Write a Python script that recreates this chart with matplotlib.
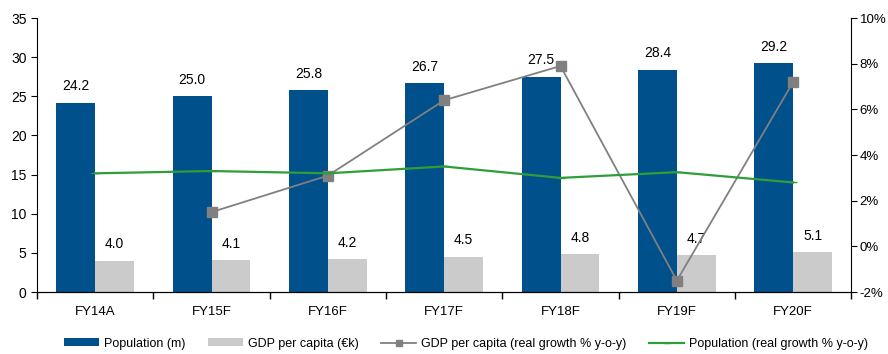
import numpy as np
import matplotlib
matplotlib.use("Agg")
import matplotlib.pyplot as plt

plt.rcParams['font.family'] = ['Liberation Sans', 'DejaVu Sans']

years = ["FY14A", "FY15F", "FY16F", "FY17F", "FY18F", "FY19F", "FY20F"]
population = [24.2, 25.0, 25.8, 26.7, 27.5, 28.4, 29.2]
gdp_per_capita = [4.0, 4.1, 4.2, 4.5, 4.8, 4.7, 5.1]
gdp_growth = [np.nan, 1.5, 3.1, 6.4, 7.9, -1.5, 7.2]
pop_growth = [3.2, 3.3, 3.2, 3.5, 3.0, 3.25, 2.8]

blue = "#00508C"
light_grey = "#CBCBCB"
line_grey = "#808080"
green = "#2E9E3A"

fig = plt.figure(figsize=(8.88, 3.54), dpi=100)
ax = fig.add_axes([0.0417, 0.175, 0.917, 0.774])
x = np.arange(len(years))
w = 0.335

b1 = ax.bar(x - w / 2, population, w, color=blue, label="Population (m)")
b2 = ax.bar(x + w / 2, gdp_per_capita, w, color=light_grey, label="GDP per capita (€k)")
for rect, v in zip(b1, population):
    ax.text(rect.get_x() + rect.get_width() / 2, v + 1.2, f"{v:.1f}",
            ha="center", va="bottom", fontsize=10)
for rect, v in zip(b2, gdp_per_capita):
    ax.text(rect.get_x() + rect.get_width() / 2, v + 1.2, f"{v:.1f}",
            ha="center", va="bottom", fontsize=10)

ax.set_xlim(-0.5, len(years) - 0.5)
ax.set_ylim(0, 35)
ax.set_yticks(range(0, 36, 5))
ax.set_xticks(x)
ax.set_xticklabels(years)
ax.set_xticks(np.arange(-0.5, len(years)), minor=True)
ax.tick_params(axis="x", which="major", length=0, pad=10, labelsize=9.5)
ax.tick_params(axis="x", which="minor", length=5, direction="out", width=1)
ax.tick_params(axis="y", length=4, direction="out", labelsize=10)
ax.spines["top"].set_visible(False)
ax.spines["right"].set_visible(False)

ax2 = ax.twinx()
ax2.plot(x, gdp_growth, color=line_grey, marker="s", markersize=7,
         linewidth=1.3, label="GDP per capita (real growth % y-o-y)")
ax2.plot(x, pop_growth, color=green, marker="_", markersize=6,
         linewidth=1.6, label="Population (real growth % y-o-y)")
ax2.set_ylim(-2, 10)
ax2.set_yticks(range(-2, 11, 2))
ax2.set_yticklabels([f"{t}%" for t in range(-2, 11, 2)])
ax2.tick_params(axis="y", length=4, direction="out", labelsize=9.5, pad=2)
ax2.spines["top"].set_visible(False)
ax2.spines["left"].set_visible(False)

handles = [b1, b2] + ax2.get_lines()
labels = [h.get_label() for h in handles]
fig.legend(handles, labels, loc="lower center", ncol=4, frameon=False,
           bbox_to_anchor=(0.525, -0.02), fontsize=9, handlelength=2.8,
           handleheight=0.6, handletextpad=0.4, columnspacing=1.8,
           markerscale=0.7)

fig.savefig("out.png", dpi=100)
